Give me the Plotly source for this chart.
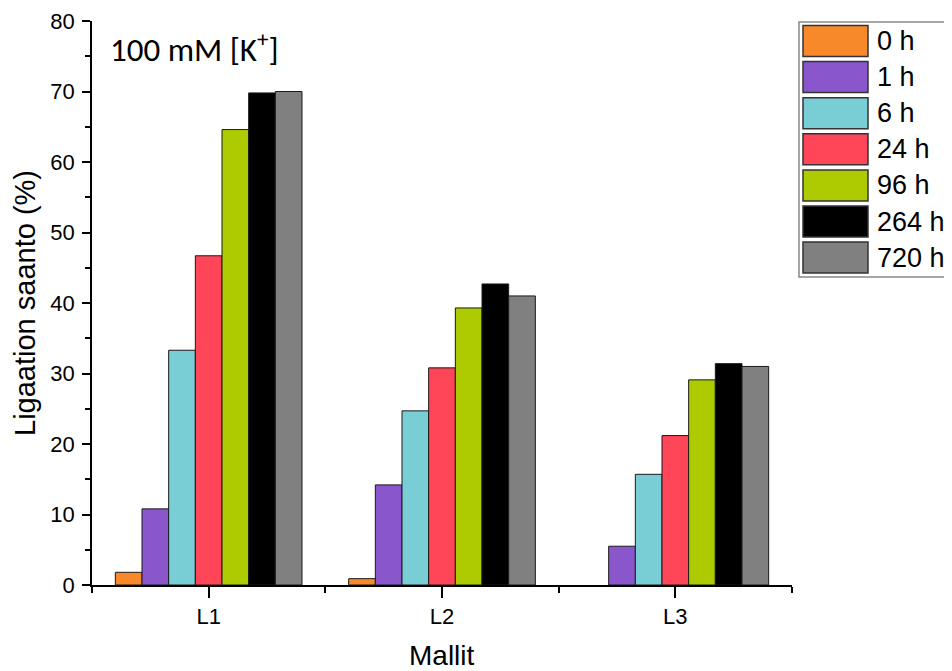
import plotly.graph_objects as go

categories = ["L1", "L2", "L3"]
series_names = ["0 h", "1 h", "6 h", "24 h", "96 h", "264 h", "720 h"]
values_0h = [1.8, 0.9, None]
values_1h = [10.8, 14.2, 5.5]
values_6h = [33.3, 24.7, 15.7]
values_24h = [46.7, 30.8, 21.2]
values_96h = [64.6, 39.3, 29.1]
values_264h = [69.8, 42.7, 31.4]
values_720h = [70.0, 41.0, 31.0]
series_values = [values_0h, values_1h, values_6h, values_24h, values_96h, values_264h, values_720h]
colors = ["#F8892B", "#8A56CC", "#79CDD5", "#FF4558", "#ADCB00", "#000000", "#808080"]

x_pos = list(range(len(categories)))

fig = go.Figure()
for name, vals, col in zip(series_names, series_values, colors):
    fig.add_trace(go.Bar(
        x=x_pos, y=vals, name=name,
        marker=dict(color=col, line=dict(color="#1a1a1a", width=1)),
        showlegend=False,
    ))

# page is offset by 8px body margin; figure is sized to fit
OFF = 8
L, R, T, B = 92, 792, 21, 585   # plot area in page pixels
W, H = 952 - OFF, 671 - OFF
pw, ph = R - L, B - T

def px2x(px):
    return (px - L) / pw

def py2y(py):
    return (B - py) / ph

ARIAL = "Liberation Sans, Arial"
shapes = []
annotations = []
# legend box
shapes.append(dict(type="rect", xref="paper", yref="paper",
                   x0=px2x(799), x1=px2x(960), y0=py2y(277), y1=py2y(22),
                   line=dict(color="#888888", width=1.5), fillcolor="white", layer="above"))
row0, pitch = 41, 36.1
for i, (name, col) in enumerate(zip(series_names, colors)):
    cy = row0 + i * pitch
    shapes.append(dict(type="rect", xref="paper", yref="paper",
                       x0=px2x(803), x1=px2x(868), y0=py2y(cy + 15.5), y1=py2y(cy - 15.5),
                       line=dict(color="#333333", width=1.5), fillcolor=col, layer="above"))
    annotations.append(dict(xref="paper", yref="paper", x=px2x(875), y=py2y(cy),
                            text=name, showarrow=False, xanchor="left", yanchor="middle",
                            font=dict(family=ARIAL, size=27, color="black")))

annotations.append(dict(xref="paper", yref="paper", x=px2x(108), y=py2y(47),
                        text="100 mM [K<sup>+</sup>]", showarrow=False,
                        xanchor="left", yanchor="middle",
                        font=dict(family="Carlito, Lato, Open Sans", size=33, color="black")))
# axis titles
annotations.append(dict(xref="paper", yref="paper", x=px2x(442), y=py2y(655),
                        text="Mallit", showarrow=False, xanchor="center", yanchor="middle",
                        font=dict(family=ARIAL, size=28, color="black")))
annotations.append(dict(xref="paper", yref="paper", x=px2x(25), y=py2y(303),
                        text="Ligaation saanto (%)", showarrow=False, textangle=-90,
                        xanchor="center", yanchor="middle",
                        font=dict(family=ARIAL, size=29, color="black")))

fig.update_layout(
    width=W, height=H,
    margin=dict(l=L - OFF, r=W - (R - OFF), t=T - OFF, b=H - (B - OFF), pad=0, autoexpand=False),
    paper_bgcolor="white", plot_bgcolor="white",
    barmode="group", bargap=0.2, bargroupgap=0,
    shapes=shapes, annotations=annotations,
    font=dict(family=ARIAL, color="black"),
)
fig.update_xaxes(
    range=[-0.5, 2.5], tickmode="array", tickvals=x_pos, ticktext=categories,
    showline=True, linecolor="black", linewidth=1.5, showgrid=False, zeroline=False,
    ticks="outside", ticklen=11, tickwidth=1.5, tickcolor="black",
    tickfont=dict(family=ARIAL, size=22),
    minor=dict(tickmode="array", tickvals=[-0.5, 0.5, 1.5, 2.5], ticks="outside",
               ticklen=6, tickwidth=1.5, tickcolor="black", showgrid=False),
    automargin=False,
)
fig.update_yaxes(
    range=[0, 80], dtick=10, tick0=0,
    showline=True, linecolor="black", linewidth=1.5, showgrid=False, zeroline=False,
    ticks="outside", ticklen=8, tickwidth=1.5, tickcolor="black",
    tickfont=dict(family=ARIAL, size=22), ticklabelstandoff=3,
    minor=dict(tickmode="linear", tick0=5, dtick=10, ticks="outside",
               ticklen=5, tickwidth=1.5, tickcolor="black", showgrid=False),
    automargin=False,
)

fig.write_html("out.html")
